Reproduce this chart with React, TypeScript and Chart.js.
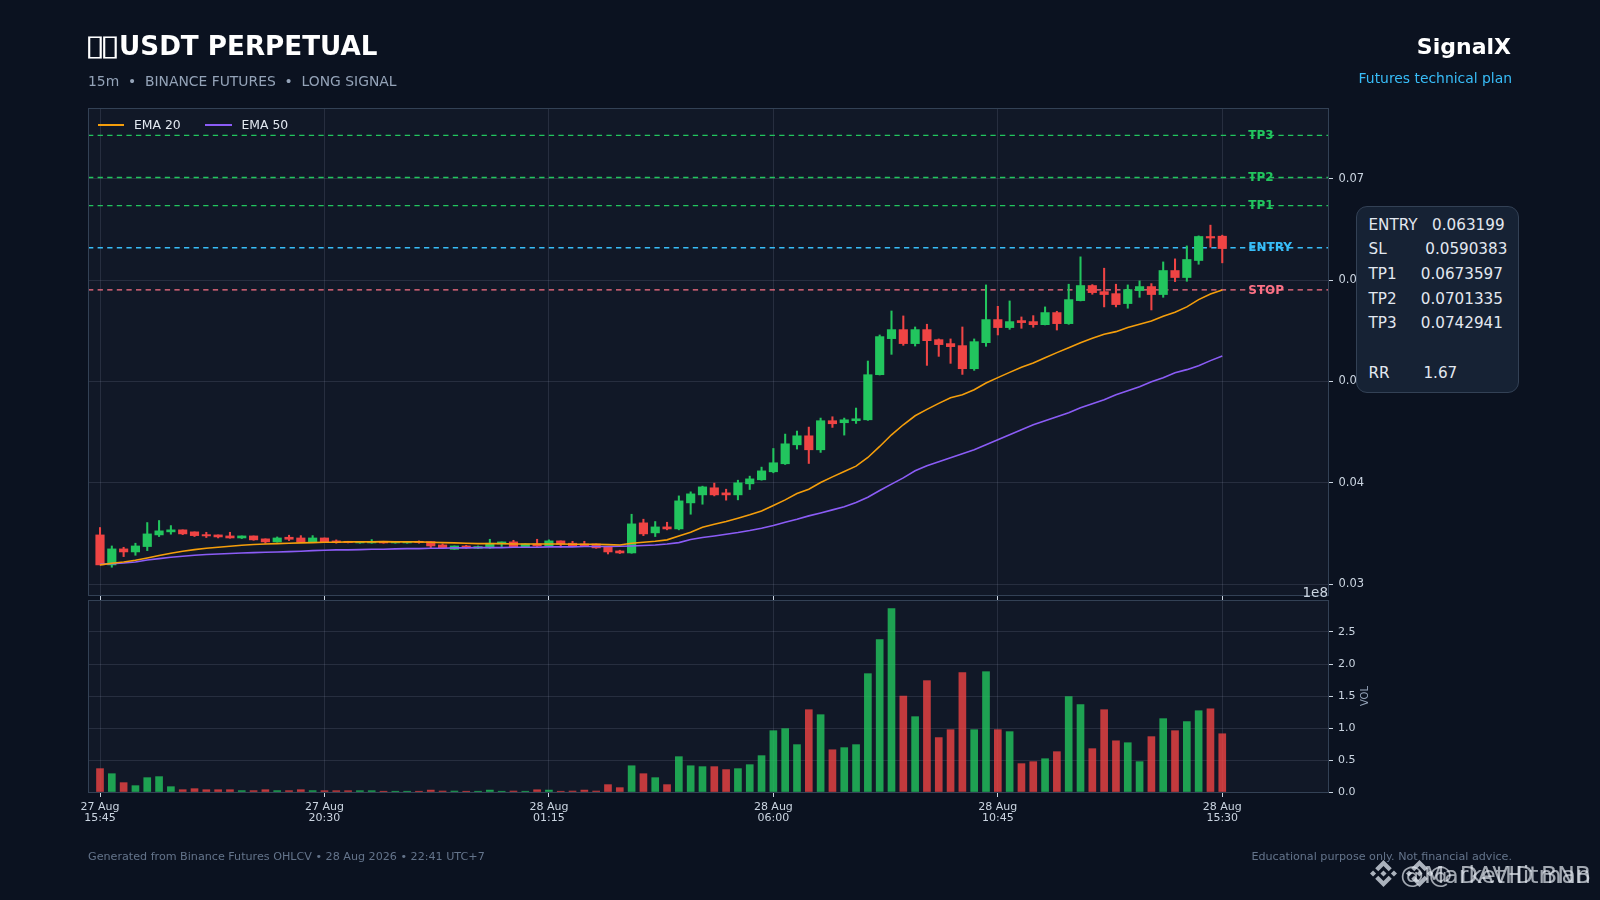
import React, { useEffect, useRef } from "react";
import { Chart, registerables } from "chart.js";

Chart.register(...registerables);

const FONT = '"DejaVu Sans", sans-serif';

const opens = [
  0.03486, 0.0319, 0.03348, 0.03318, 0.03371, 0.03486, 0.03516, 0.03536, 0.03516, 0.03489, 0.03486, 0.03476,
  0.03456, 0.03476, 0.03447, 0.03417, 0.03463, 0.03456, 0.03417, 0.03456, 0.03427, 0.03423, 0.03407, 0.03407,
  0.03423, 0.03407, 0.03407, 0.03423, 0.0342, 0.03387, 0.03344, 0.03377, 0.03354, 0.03358, 0.03397, 0.03417,
  0.03364, 0.03397, 0.03377, 0.03427, 0.03404, 0.03397, 0.03397, 0.03364, 0.03328, 0.03308, 0.03605, 0.03506,
  0.03565, 0.03545, 0.03802, 0.03881, 0.03951, 0.03901, 0.03881, 0.0399, 0.0403, 0.04109, 0.04188, 0.04375,
  0.04464, 0.04326, 0.04613, 0.04593, 0.04613, 0.04622, 0.05067, 0.05423, 0.05512, 0.05374, 0.05512, 0.05413,
  0.05374, 0.05354, 0.05126, 0.05383, 0.05611, 0.05532, 0.05601, 0.05591, 0.05561, 0.0568, 0.05571, 0.05798,
  0.05947, 0.05887, 0.05867, 0.05769, 0.05897, 0.05937, 0.05858, 0.06095, 0.06026, 0.06194, 0.06431, 0.06434,
];
const highs = [
  0.03559, 0.03377, 0.03364, 0.03404, 0.03608, 0.03628, 0.03578, 0.03536, 0.03516, 0.03512, 0.03486, 0.03512,
  0.03476, 0.03476, 0.03447, 0.03466, 0.03483, 0.03479, 0.03479, 0.03456, 0.03437, 0.03423, 0.0342, 0.0344,
  0.03423, 0.03423, 0.0342, 0.03427, 0.0342, 0.03397, 0.03377, 0.03384, 0.03377, 0.03443, 0.03417, 0.03433,
  0.034, 0.03443, 0.03437, 0.03427, 0.03423, 0.03423, 0.03397, 0.03364, 0.03335, 0.0369, 0.03641, 0.03618,
  0.03611, 0.03871, 0.03911, 0.03967, 0.03997, 0.03937, 0.04026, 0.04066, 0.04155, 0.04339, 0.04481, 0.04511,
  0.0455, 0.04639, 0.04652, 0.04639, 0.04738, 0.05202, 0.05459, 0.05696, 0.05647, 0.05538, 0.05565, 0.0542,
  0.0542, 0.05538, 0.0542, 0.05953, 0.05742, 0.05795, 0.05637, 0.0565, 0.05736, 0.05693, 0.0596, 0.0623,
  0.05956, 0.06118, 0.0596, 0.05953, 0.05993, 0.05966, 0.0618, 0.0621, 0.06338, 0.06437, 0.06543, 0.06444,
];
const lows = [
  0.0319, 0.03167, 0.03272, 0.03285, 0.03331, 0.0347, 0.03493, 0.03489, 0.0347, 0.0346, 0.03456, 0.03453,
  0.0345, 0.03433, 0.03404, 0.03414, 0.0343, 0.03414, 0.03414, 0.03414, 0.03404, 0.03407, 0.03404, 0.03404,
  0.03404, 0.03404, 0.03404, 0.03404, 0.03361, 0.03354, 0.03344, 0.03354, 0.03351, 0.03354, 0.03371, 0.03361,
  0.03361, 0.03371, 0.03374, 0.03364, 0.03371, 0.03371, 0.03354, 0.03298, 0.03302, 0.03305, 0.03479, 0.0347,
  0.03536, 0.03536, 0.0369, 0.03789, 0.03871, 0.03829, 0.03832, 0.03934, 0.04026, 0.04099, 0.04181, 0.04333,
  0.04191, 0.043, 0.04547, 0.04471, 0.04586, 0.04616, 0.05064, 0.05268, 0.05357, 0.0535, 0.05159, 0.05248,
  0.05179, 0.0507, 0.0511, 0.05347, 0.05459, 0.05515, 0.05525, 0.05535, 0.05558, 0.05508, 0.05564, 0.05795,
  0.05861, 0.05736, 0.05736, 0.05723, 0.05831, 0.05706, 0.05831, 0.05986, 0.05989, 0.06157, 0.06325, 0.06171,
];
const closes = [
  0.0319, 0.03348, 0.03318, 0.03377, 0.03496, 0.03526, 0.03536, 0.03496, 0.03479, 0.03476, 0.03466, 0.03456,
  0.03476, 0.03437, 0.03417, 0.03456, 0.03443, 0.03417, 0.03456, 0.03417, 0.0341, 0.0341, 0.0342, 0.0342,
  0.03407, 0.0342, 0.0342, 0.0341, 0.03377, 0.03358, 0.03377, 0.03358, 0.03371, 0.03404, 0.03417, 0.03364,
  0.03397, 0.03377, 0.03427, 0.03394, 0.03377, 0.03377, 0.03358, 0.03318, 0.03308, 0.03595, 0.03496, 0.03565,
  0.03545, 0.03822, 0.03891, 0.0396, 0.03881, 0.03881, 0.04, 0.04039, 0.04118, 0.04198, 0.04385, 0.04464,
  0.04326, 0.04613, 0.04583, 0.04622, 0.04632, 0.05067, 0.05443, 0.05512, 0.05374, 0.05512, 0.05403, 0.05364,
  0.05344, 0.05126, 0.05393, 0.05611, 0.05532, 0.05591, 0.05581, 0.05561, 0.0568, 0.05571, 0.05808, 0.05947,
  0.05877, 0.05858, 0.05759, 0.05907, 0.05937, 0.05858, 0.06095, 0.06026, 0.06204, 0.06431, 0.06416, 0.06312,
];
const volumes = [
  36.5e6, 28.6e6, 14.6e6, 9.9e6, 22.4e6, 24e6, 8.3e6, 3.6e6, 5.2e6, 3.6e6, 3.6e6, 3.6e6,
  2.1e6, 2.1e6, 3.6e6, 2.1e6, 2.1e6, 3.6e6, 2.1e6, 2e6, 2e6, 2e6, 2e6, 2e6,
  1.2e6, 1.2e6, 1.2e6, 1.2e6, 3e6, 1.5e6, 1.5e6, 1.2e6, 1.2e6, 3e6, 1.2e6, 1.5e6,
  1.2e6, 3.5e6, 3e6, 1.2e6, 1.5e6, 3e6, 1.5e6, 11.5e6, 6.8e6, 41e6, 28.6e6, 22.4e6,
  11.5e6, 55.2e6, 41e6, 39.6e6, 39.6e6, 35e6, 36.5e6, 42.7e6, 56.8e6, 95.8e6, 99e6, 74e6,
  128.6e6, 120.8e6, 66e6, 69.3e6, 74e6, 184.9e6, 238e6, 286.5e6, 150e6, 117.7e6, 174e6, 85e6,
  97.4e6, 186.5e6, 97.4e6, 188e6, 97.4e6, 94.3e6, 44.3e6, 47.4e6, 52e6, 63e6, 149e6, 136.5e6,
  67.7e6, 128.6e6, 80e6, 77e6, 47.4e6, 86.5e6, 114.6e6, 95.8e6, 110e6, 127e6, 130e6, 91e6,
];
const ema20 = [
  0.0319, 0.03206, 0.03219, 0.03236, 0.03259, 0.03282, 0.03305, 0.03325, 0.03341, 0.03354, 0.03364, 0.03374,
  0.03384, 0.03391, 0.03397, 0.034, 0.03404, 0.03407, 0.0341, 0.03414, 0.03414, 0.03417, 0.03417, 0.03417,
  0.0342, 0.03417, 0.03417, 0.03417, 0.03414, 0.0341, 0.03407, 0.03404, 0.034, 0.034, 0.034, 0.03397,
  0.03397, 0.03397, 0.03397, 0.03397, 0.03394, 0.03394, 0.03394, 0.0339, 0.03387, 0.03404, 0.03414, 0.03423,
  0.03437, 0.03476, 0.03512, 0.03562, 0.03591, 0.03618, 0.03651, 0.03684, 0.03723, 0.03776, 0.03832, 0.03894,
  0.03937, 0.04003, 0.04059, 0.04112, 0.04165, 0.0425, 0.04359, 0.04474, 0.04573, 0.04662, 0.04725, 0.04784,
  0.0484, 0.0487, 0.04919, 0.04985, 0.05038, 0.0509, 0.0514, 0.05182, 0.05235, 0.05285, 0.05334, 0.05383,
  0.05426, 0.05466, 0.05492, 0.05532, 0.05564, 0.05597, 0.05644, 0.05683, 0.05736, 0.05808, 0.05864, 0.05904,
];
const ema50 = [
  0.03196, 0.03203, 0.03209, 0.03219, 0.03239, 0.03252, 0.03265, 0.03275, 0.03285, 0.03292, 0.03298, 0.03302,
  0.03308, 0.03311, 0.03315, 0.03318, 0.03321, 0.03325, 0.03331, 0.03335, 0.03338, 0.03338, 0.03341, 0.03344,
  0.03344, 0.03348, 0.03351, 0.03351, 0.03354, 0.03354, 0.03358, 0.03358, 0.03361, 0.03361, 0.03361, 0.03364,
  0.03364, 0.03364, 0.03368, 0.03368, 0.03368, 0.03371, 0.03371, 0.03371, 0.03374, 0.03377, 0.03381, 0.03387,
  0.03397, 0.0341, 0.0344, 0.0346, 0.03476, 0.03493, 0.03509, 0.03529, 0.03552, 0.03578, 0.03611, 0.03641,
  0.03674, 0.03703, 0.03733, 0.03763, 0.03806, 0.03858, 0.03924, 0.03987, 0.04049, 0.04119, 0.04168, 0.04208,
  0.04247, 0.04287, 0.04326, 0.04375, 0.04425, 0.04474, 0.04523, 0.04573, 0.04613, 0.04653, 0.04692, 0.04741,
  0.04781, 0.0482, 0.0487, 0.04909, 0.04949, 0.04998, 0.05038, 0.05087, 0.05117, 0.05156, 0.05206, 0.05252,
];

const levelNames = ["TP3", "TP2", "TP1", "ENTRY", "STOP"];
const levelValues = [0.0742941, 0.0701335, 0.0673597, 0.063199, 0.0590383];
const levelColors = ["#22c55e", "#22c55e", "#22c55e", "#38bdf8", "#fb7185"];

const xTickIndexes = [0, 19, 38, 57, 76, 95];
const xTickLabels = [
  ["27 Aug", "15:45"],
  ["27 Aug", "20:30"],
  ["28 Aug", "01:15"],
  ["28 Aug", "06:00"],
  ["28 Aug", "10:45"],
  ["28 Aug", "15:30"],
];
const priceTicks = [0.03, 0.04, 0.05, 0.06, 0.07];
const volumeTicks = [0, 0.5e8, 1e8, 1.5e8, 2e8, 2.5e8];

const planRows = [
  "ENTRY   0.063199",
  "SL        0.0590383",
  "TP1     0.0673597",
  "TP2     0.0701335",
  "TP3     0.0742941",
  " ",
  "RR       1.67",
];

const X_MIN = -1.016;
const X_MAX = 103.95;
const LEVEL_LABEL_X = 97.2;
const UP = "#22c55e";
const DOWN = "#ef4444";
const UP_VOL = "rgba(34,197,94,0.8)";
const DOWN_VOL = "rgba(239,68,68,0.8)";
const EMA20_COLOR = "#f59e0b";
const EMA50_COLOR = "#8b5cf6";
const GRID = "rgba(148,163,184,0.17)";
const FRAME = "#334155";
const TICK = "#cbd5e1";
const PLOT_BG = "#111827";
const PAGE_BG = "#0b1220";

const isUp = (i: number) => closes[i] >= opens[i];
const candleColors = closes.map((_, i) => (isUp(i) ? UP : DOWN));
const volumeColors = closes.map((_, i) => (isUp(i) ? UP_VOL : DOWN_VOL));

const framePlugin = {
  id: "frame",
  beforeDraw(chart: any) {
    const { ctx, chartArea: a } = chart;
    ctx.save();
    ctx.fillStyle = PLOT_BG;
    ctx.fillRect(a.left, a.top, a.right - a.left, a.bottom - a.top);
    ctx.restore();
  },
  afterDraw(chart: any) {
    const { ctx, chartArea: a } = chart;
    ctx.save();
    ctx.strokeStyle = FRAME;
    ctx.lineWidth = 1;
    ctx.strokeRect(a.left + 0.5, a.top + 0.5, a.right - a.left, a.bottom - a.top);
    ctx.restore();
  },
};

const levelLabelPlugin = {
  id: "levelLabels",
  afterDatasetsDraw(chart: any) {
    const { ctx, scales } = chart;
    ctx.save();
    ctx.font = `bold 12px ${FONT}`;
    ctx.textBaseline = "middle";
    ctx.textAlign = "left";
    levelNames.forEach((name, i) => {
      ctx.fillStyle = levelColors[i];
      ctx.fillText(name, scales.x.getPixelForValue(LEVEL_LABEL_X), scales.y.getPixelForValue(levelValues[i]) + 0.5);
    });
    ctx.restore();
  },
};

const xScale = (showLabels: boolean, axisHeight: number) => ({
  type: "linear",
  bounds: "data",
  min: X_MIN,
  max: X_MAX,
  offset: false,
  afterBuildTicks(s: any) {
    s.ticks = xTickIndexes.map((value) => ({ value }));
  },
  afterFit(s: any) {
    s.height = axisHeight;
  },
  ticks: {
    display: showLabels,
    autoSkip: false,
    maxRotation: 0,
    padding: 5,
    color: TICK,
    font: { family: FONT, size: 11, lineHeight: 0.97 },
    callback: (v: number) => {
      const k = xTickIndexes.indexOf(v);
      return k >= 0 ? xTickLabels[k] : "";
    },
  },
  grid: { color: GRID, offset: false, drawTicks: true, tickLength: 5, tickColor: TICK, tickWidth: 1 },
  border: { display: false },
});

const baseOptions = {
  responsive: false,
  animation: false,
  events: [],
  plugins: { legend: { display: false }, tooltip: { enabled: false } },
};

export default function App() {
  const priceRef = useRef<HTMLCanvasElement>(null);
  const volRef = useRef<HTMLCanvasElement>(null);

  useEffect(() => {
    const pts = (arr: number[]) => arr.map((y, x) => ({ x, y }));
    const price = new Chart(priceRef.current!, {
      type: "bar",
      plugins: [framePlugin, levelLabelPlugin],
      data: {
        datasets: [
          {
            type: "line",
            label: "EMA 20",
            data: pts(ema20),
            borderColor: EMA20_COLOR,
            borderWidth: 1.6,
            pointRadius: 0,
            order: 1,
          },
          {
            type: "line",
            label: "EMA 50",
            data: pts(ema50),
            borderColor: EMA50_COLOR,
            borderWidth: 1.6,
            pointRadius: 0,
            order: 2,
          },
          {
            label: "body",
            data: closes.map((c, i) => ({ x: i, y: [opens[i], c] })),
            backgroundColor: candleColors,
            barThickness: 8.5,
            grouped: false,
            minBarLength: 1,
            order: 3,
          },
          {
            label: "wick",
            data: highs.map((h, i) => ({ x: i, y: [lows[i], h] })),
            backgroundColor: candleColors,
            barThickness: 1.4,
            grouped: false,
            order: 4,
          },
          ...levelValues.map((v, i) => ({
            type: "line",
            label: levelNames[i],
            data: [
              { x: X_MIN, y: v },
              { x: X_MAX, y: v },
            ],
            borderColor: levelColors[i],
            borderWidth: 1.3,
            borderDash: [5.3, 4.3],
            pointRadius: 0,
            order: 5,
          })),
        ],
      },
      options: {
        ...baseOptions,
        layout: { padding: { left: 88, top: 108, right: 0, bottom: 0 } },
        scales: {
          x: xScale(false, 25),
          y: {
            type: "linear",
            position: "right",
            bounds: "data",
            min: 0.02893,
            max: 0.07699,
            afterBuildTicks(s: any) {
              s.ticks = priceTicks.map((value) => ({ value }));
            },
            afterFit(s: any) {
              s.width = 272;
            },
            ticks: {
              padding: 5.5,
              color: TICK,
              font: { family: FONT, size: 11.5 },
              callback: (v: number) => v.toFixed(2),
            },
            grid: { color: GRID, tickLength: 5, tickColor: TICK, tickWidth: 1 },
            border: { display: false },
          },
        },
      },
    } as any);

    const vol = new Chart(volRef.current!, {
      type: "bar",
      plugins: [framePlugin],
      data: {
        datasets: [
          {
            label: "VOL",
            data: volumes.map((y, x) => ({ x, y })),
            backgroundColor: volumeColors,
            barThickness: 7,
            grouped: false,
          },
        ],
      },
      options: {
        ...baseOptions,
        layout: { padding: { left: 88, top: 20, right: 0, bottom: 0 } },
        scales: {
          x: xScale(true, 108),
          y: {
            type: "linear",
            position: "right",
            bounds: "data",
            min: 0,
            max: 3e8,
            afterBuildTicks(s: any) {
              s.ticks = volumeTicks.map((value) => ({ value }));
            },
            afterFit(s: any) {
              s.width = 272;
            },
            ticks: {
              padding: 5,
              color: TICK,
              font: { family: FONT, size: 11 },
              callback: (v: number) => (v / 1e8).toFixed(1),
            },
            grid: { color: GRID, tickLength: 5, tickColor: TICK, tickWidth: 1 },
            border: { display: false },
          },
        },
      },
    } as any);

    return () => {
      price.destroy();
      vol.destroy();
    };
  }, []);

  const abs = (left: number, cy: number, size: number, color: string, extra: any = {}) => ({
    position: "absolute",
    left,
    top: cy - 15,
    lineHeight: "30px",
    fontSize: size,
    color,
    whiteSpace: "pre",
    ...extra,
  });

  const logo =
    "M16.624 13.9202l2.7175 2.7154-7.353 7.353-7.353-7.352 2.7175-2.7164 4.6355 4.6595 4.6356-4.6595zm4.6366-4.6366L24 12l-2.7154 2.7164L18.5682 12l2.6924-2.7164zm-9.272.001l2.7163 2.6914-2.7164 2.7174v-.001L9.2721 12l2.7164-2.7154zm-9.2722-.001L5.4088 12l-2.6914 2.6924L0 12l2.7164-2.7164zM11.9885.0115l7.353 7.329-2.7174 2.7154-4.6356-4.6356-4.6355 4.6595-2.7174-2.7154 7.353-7.353z";

  return (
    <div
      style={{
        position: "fixed",
        left: 0,
        top: 0,
        width: 1600,
        height: 900,
        background: PAGE_BG,
        overflow: "hidden",
        fontFamily: FONT,
      }}
    >
      <canvas ref={priceRef} width={1600} height={620} style={{ position: "absolute", left: 0, top: 0 }} />
      <canvas ref={volRef} width={1600} height={320} style={{ position: "absolute", left: 0, top: 580 }} />

      <div style={abs(85, 45, 26.2, "#ffffff", { fontWeight: 700 })}>
        <span
          style={{
            display: "inline-block",
            width: 34,
            fontSize: 29,
            letterSpacing: -4.2,
            transform: "scaleX(1.28)",
            transformOrigin: "left center",
          }}
        >
          ▯▯
        </span>
        USDT PERPETUAL
      </div>
      <div style={abs(88, 81, 13.88, "#94a3b8")}>15m  •  BINANCE FUTURES  •  LONG SIGNAL</div>
      <div style={abs(0, 47, 22, "#ffffff", { fontWeight: 700, left: "auto", right: 89 })}>SignalX</div>
      <div style={abs(0, 78, 13.9, "#38bdf8", { left: "auto", right: 88 })}>Futures technical plan</div>

      <div style={{ position: "absolute", left: 98, top: 124, width: 26, height: 2, background: EMA20_COLOR }} />
      <div style={abs(134, 125, 12.4, "#e2e8f0")}>EMA 20</div>
      <div style={{ position: "absolute", left: 205, top: 124, width: 27, height: 2, background: EMA50_COLOR }} />
      <div style={abs(241.5, 125, 12.4, "#e2e8f0")}>EMA 50</div>

      <div style={abs(0, 592, 13.5, TICK, { left: "auto", right: 272 })}>1e8</div>
      <div
        style={abs(1350, 696, 10, "#94a3b8", {
          width: 30,
          textAlign: "center",
          transform: "rotate(-90deg)",
        })}
      >
        VOL
      </div>

      <div
        style={{
          position: "absolute",
          left: 1356,
          top: 206,
          width: 163,
          height: 187,
          boxSizing: "border-box",
          background: "#162234",
          border: "1px solid #334155",
          borderRadius: 11,
          paddingLeft: 11.5,
          paddingTop: 5.5,
          fontSize: 15.2,
          lineHeight: "24.7px",
          color: "#e2e8f0",
          whiteSpace: "pre",
        }}
      >
        {planRows.map((r, i) => (
          <div key={i}>{r}</div>
        ))}
      </div>

      <div style={abs(88, 857, 11.15, "#64748b")}>Generated from Binance Futures OHLCV • 28 Aug 2026 • 22:41 UTC+7</div>
      <div style={abs(0, 856.5, 11.15, "#64748b", { left: "auto", right: 88 })}>
        Educational purpose only. Not financial advice.
      </div>

      <svg viewBox="0 0 24 24" width="27" height="27" style={{ position: "absolute", left: 1370, top: 860, opacity: 0.75 }}>
        <path d={logo} fill="#e2e8f0" />
      </svg>
      <svg viewBox="0 0 24 24" width="27" height="27" style={{ position: "absolute", left: 1406, top: 860, opacity: 0.75 }}>
        <path d={logo} fill="#e2e8f0" />
      </svg>
      <div style={abs(0, 875, 23.6, "rgba(226,232,240,0.7)", { left: "auto", right: 9 })}>@MarketHitman</div>
      <div style={abs(0, 875, 23.6, "rgba(226,232,240,0.7)", { left: "auto", right: 9 })}>@ DAVID BNB</div>
    </div>
  );
}
